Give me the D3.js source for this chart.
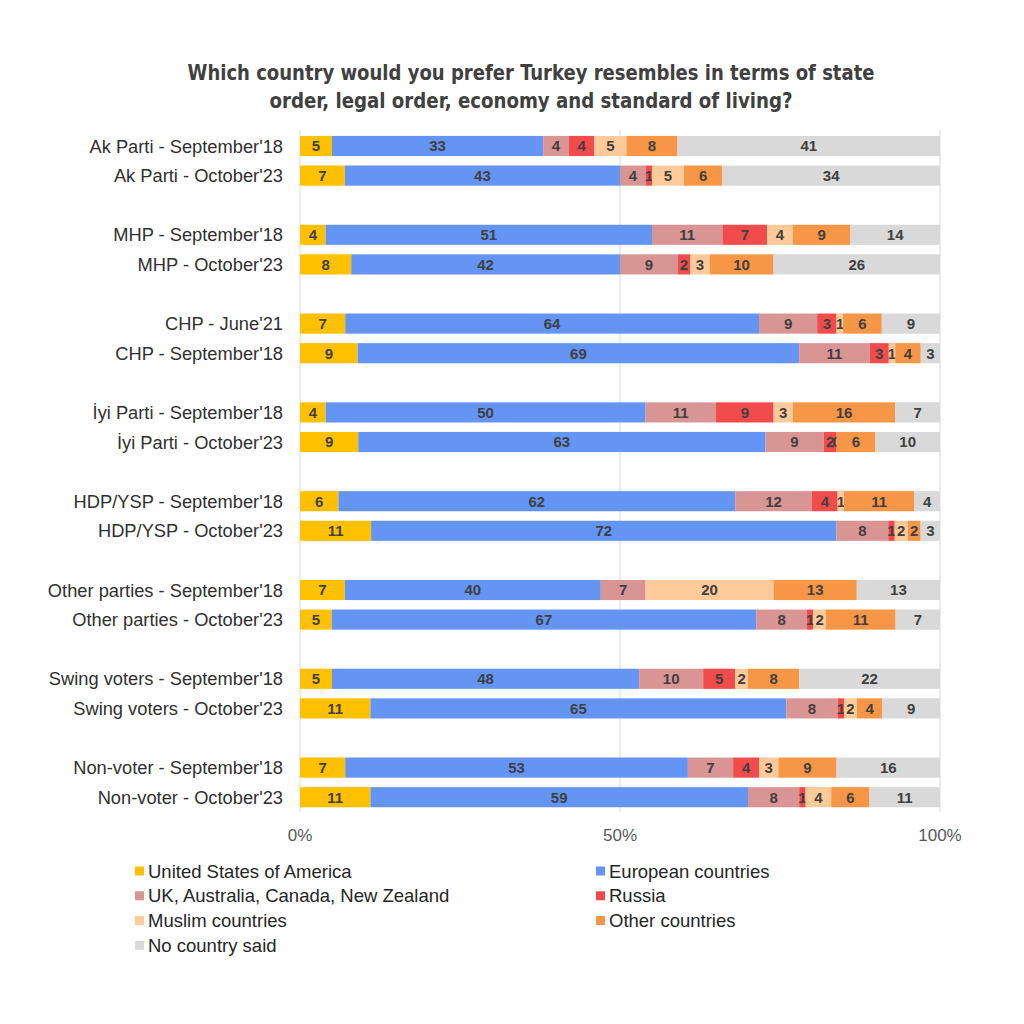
<!DOCTYPE html>
<html><head><meta charset="utf-8">
<script src="https://cdn.jsdelivr.net/npm/d3@7"></script>
<style>body{margin:0;background:#fff}</style>
</head><body>
<svg id="c" width="1024" height="1024"></svg>
<script>
const categories = [
 "Ak Parti - September'18","Ak Parti - October'23",null,
 "MHP - September'18","MHP - October'23",null,
 "CHP - June'21","CHP - September'18",null,
 "İyi Parti - September'18","İyi Parti - October'23",null,
 "HDP/YSP - September'18","HDP/YSP - October'23",null,
 "Other parties - September'18","Other parties - October'23",null,
 "Swing voters - September'18","Swing voters - October'23",null,
 "Non-voter - September'18","Non-voter - October'23"];
const seriesNames = ["United States of America","European countries","UK, Australia, Canada, New Zealand","Russia","Muslim countries","Other countries","No country said"];
const colors = ["#FFC000","#6495F5","#D99594","#F24B4B","#FFCA99","#F79646","#D9D9D9"];
const usa     = [5,7,null,4,8,null,7,9,null,4,9,null,6,11,null,7,5,null,5,11,null,7,11];
const europe  = [33,43,null,51,42,null,64,69,null,50,63,null,62,72,null,40,67,null,48,65,null,53,59];
const ukEtc   = [4,4,null,11,9,null,9,11,null,11,9,null,12,8,null,7,8,null,10,8,null,7,8];
const russia  = [4,1,null,7,2,null,3,3,null,9,2,null,4,1,null,null,1,null,5,1,null,4,1];
const muslim  = [5,5,null,4,3,null,1,1,null,3,0,null,1,2,null,20,2,null,2,2,null,3,4];
const other   = [8,6,null,9,10,null,6,4,null,16,6,null,11,2,null,13,11,null,8,4,null,9,6];
const noneSaid= [41,34,null,14,26,null,9,3,null,7,10,null,4,3,null,13,7,null,22,9,null,16,11];
const series = [usa,europe,ukEtc,russia,muslim,other,noneSaid];
const xTicks = [0,50,100];
const titleLines = ["Which country would you prefer Turkey resembles in terms of state","order, legal order, economy and standard of living?"];

const svg = d3.select("#c");
const left = 300, right = 940;
const x = d3.scaleLinear().domain([0,100]).range([left,right]);
const y = d3.scaleBand().domain(d3.range(categories.length)).range([131.2,812]).paddingInner(0.32).paddingOuter(0.16);

// gridlines
svg.append("g").selectAll("line").data(xTicks).join("line")
 .attr("x1",d=>x(d)).attr("x2",d=>x(d)).attr("y1",130).attr("y2",812)
 .attr("stroke","#D9D9D9").attr("stroke-width",1);

// title
const tl = [687,523];
svg.append("g").selectAll("text").data(titleLines).join("text")
 .attr("x",531).attr("y",(d,i)=>80+i*28).attr("text-anchor","middle")
 .attr("font-family","'DejaVu Sans Condensed','Liberation Sans Narrow',sans-serif").attr("font-weight","bold")
 .attr("font-size",21).attr("fill","#404040")
 .attr("textLength",(d,i)=>tl[i]).attr("lengthAdjust","spacingAndGlyphs")
 .text(d=>d);

const rows = categories.map((c,i)=>({c,i})).filter(d=>d.c!==null);
rows.forEach(r=>{
  const vals = series.map(s=>s[r.i]);
  const total = d3.sum(vals.map(v=>v||0));
  let acc = 0;
  const g = svg.append("g");
  vals.forEach((v,k)=>{
    if(v===null){return;}
    const x0 = left + (right-left)*acc/total;
    const x1 = left + (right-left)*(acc+v)/total;
    acc += v;
    g.append("rect").attr("x",x0).attr("y",y(r.i)).attr("width",Math.max(0,x1-x0)).attr("height",y.bandwidth()).attr("fill",colors[k]);
    g.append("text").attr("x",(x0+x1)/2).attr("y",y(r.i)+y.bandwidth()/2).attr("dy","0.36em")
     .attr("text-anchor","middle").attr("font-family","'Liberation Sans',Arial,sans-serif").attr("font-weight","bold")
     .attr("font-size",15).attr("fill","#404040").text(v);
  });
  svg.append("text").attr("x",283).attr("y",y(r.i)+y.bandwidth()/2).attr("dy","0.36em")
   .attr("text-anchor","end").attr("font-family","'Liberation Sans',Arial,sans-serif").attr("font-size",18.3).attr("fill","#303030").text(r.c);
});

// x axis labels
svg.append("g").selectAll("text").data(xTicks).join("text")
 .attr("x",d=>x(d)).attr("y",841).attr("text-anchor","middle")
 .attr("font-family","'Liberation Sans',Arial,sans-serif").attr("font-size",17).attr("fill","#595959").text(d=>d+"%");

// legend
const leg = svg.append("g");
seriesNames.forEach((n,i)=>{
  const col = i%2, row = Math.floor(i/2);
  const lx = col? 596:135, ly = 871 + row*24.8;
  leg.append("rect").attr("x",lx).attr("y",ly-4.5).attr("width",9).attr("height",9).attr("fill",colors[i]);
  leg.append("text").attr("x",lx+13).attr("y",ly).attr("dy","0.36em").attr("font-family","'Liberation Sans',Arial,sans-serif")
   .attr("font-size",18.5).attr("fill","#262626").text(n);
});
</script>
</body></html>
